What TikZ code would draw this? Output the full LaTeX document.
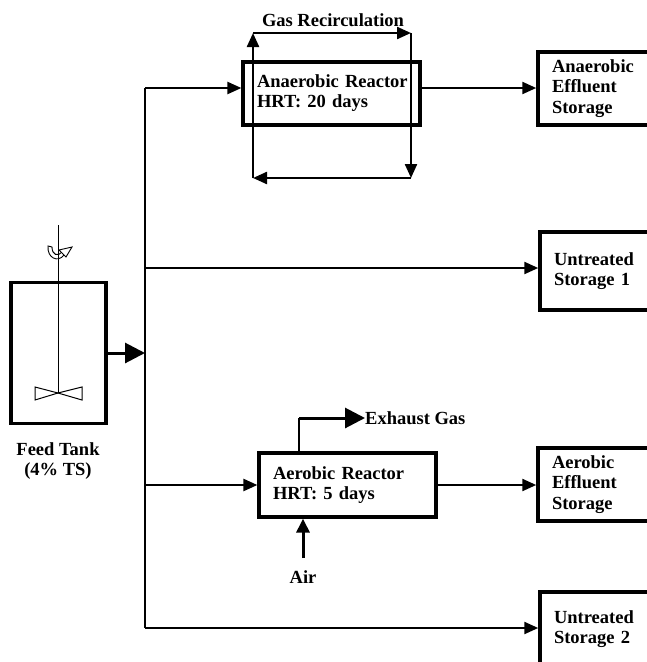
\documentclass[tikz,border=0pt]{standalone}
\usepackage{fontspec}
\setmainfont{Liberation Serif}
\usetikzlibrary{arrows.meta}
\hbadness=10000 \hfuzz=50pt
\tikzset{
  lbl/.style={font=\fontsize{18.5}{20}\selectfont\bfseries, inner sep=0pt},
  reactor/.style={draw, line width=3.2pt, minimum width=177pt, text width=149pt, inner xsep=14pt, align=left, font=\fontsize{18.5}{20}\selectfont\bfseries},
  store/.style={draw, line width=3.5pt, minimum width=120pt, text width=92pt, inner xsep=14pt, align=left, font=\fontsize{18.5}{20.5}\selectfont\bfseries},
  conn/.style={line width=2.3pt, -{Triangle[length=14pt,width=12pt]}},
  bigarr/.style={line width=3pt, -{Triangle[length=20pt,width=20pt]}},
  plain/.style={line width=2.3pt}
}
\begin{document}
\begin{tikzpicture}[x=1pt,y=-1pt]
\useasboundingbox (0,0) rectangle (647,662);
\clip (0,0) rectangle (647,662);
\fill[white] (0,0) rectangle (647,662);

% feed tank
\node[draw, line width=3.5pt, minimum width=95pt, minimum height=141pt, inner sep=0pt] (tank) at (58.5,353) {};
\coordinate (shtop) at (58,225);
\coordinate (shbot) at (58,393);
\draw[line width=1pt] (shtop) -- (shbot);
\draw[line width=1pt] (shbot) -- (35,387) -- (35,400) -- cycle;
\draw[line width=1pt] (shbot) -- (82,387) -- (82,400) -- cycle;
% rotation symbol
\draw[line width=0.9pt, fill=white] (48,246) .. controls (47,258) and (58,263) .. (64,255)
   -- (62,252) .. controls (58,257) and (52,255) .. (52,247) -- cycle;
\draw[line width=0.9pt, fill=white] (59,250) -- (72,247) -- (66,257) -- cycle;
\draw[line width=1pt] (58,244) -- (58,262);
\node[lbl, align=center] (tanklbl) at (58,461) {Feed Tank\\(4\% TS)};

% bus
\coordinate (bus) at (145,353);
\coordinate (b1) at (145,88);
\coordinate (b2) at (145,268);
\coordinate (b3) at (145,485);
\coordinate (b4) at (145,628);
\draw[plain] (b1) -- (b4);
\draw[bigarr] (tank.east |- bus) -- (bus);

% anaerobic reactor
\node[reactor, minimum height=63pt] (anr) at (331.5,93.5) {\mbox{Anaerobic Reactor}\\HRT: 20 days};
\node[lbl] (gaslbl) at (333,20) {Gas Recirculation};
\coordinate (gbl) at (253,178);
\coordinate (gtl) at (253,33);
\coordinate (gtr) at (411,33);
\coordinate (gbr) at (411,178);
\draw[conn] (gbl) -- (gtl);
\draw[conn] (gtl) -- (gtr);
\draw[conn] (gtr) -- (gbr);
\draw[conn] (gbr) -- (gbl);

% storages
\node[store, minimum height=73pt] (aes) at (598,88.5) {Anaerobic\\Effluent\\Storage};
\node[store, minimum height=78pt] (us1) at (600,271) {Untreated\\Storage 1};
\node[store, minimum height=73pt] (aeros) at (598,484.5) {Aerobic\\Effluent\\Storage};
\node[store, minimum height=74pt] (us2) at (600,629) {Untreated\\Storage 2};

% aerobic reactor
\node[reactor, minimum height=64pt] (aer) at (347.5,485) {\mbox{Aerobic Reactor}\\HRT: 5 days};

% connectors
\draw[conn] (b1) -- (b1 -| anr.west);
\draw[conn] (anr.east |- b1) -- (aes.west |- b1);
\draw[conn] (b2) -- (b2 -| us1.west);
\draw[conn] (b3) -- (aer.west);
\draw[conn] (aer.east) -- (aeros.west |- aer.east);
\draw[conn] (b4) -- (b4 -| us2.west);

% exhaust
\coordinate (exb) at (299,453);
\coordinate (exc) at (299,418);
\node[lbl, anchor=west] (exlbl) at (365,418) {Exhaust Gas};
\draw[line width=2.5pt] (exb) -- (exc);
\draw[bigarr] (exc) -- (exlbl.west);

% air
\node[lbl] (airlbl) at (303,577) {Air};
\coordinate (airt) at (303,558);
\draw[line width=3pt, -{Triangle[length=14pt,width=13pt]}] (airt) -- (airt |- aer.south);
\end{tikzpicture}
\end{document}
